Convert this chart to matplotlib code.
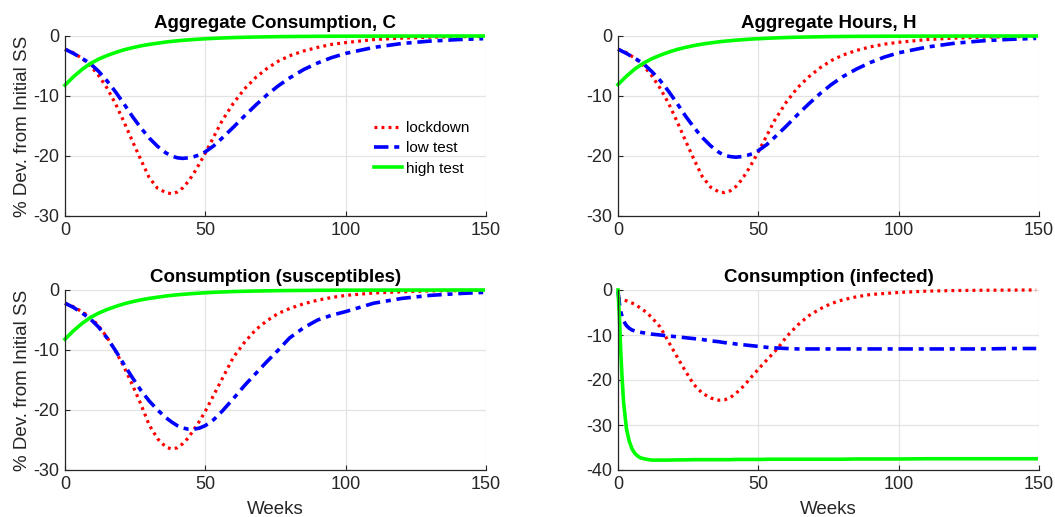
import matplotlib.pyplot as plt

plt.rcParams['font.family'] = ['Liberation Sans', 'DejaVu Sans']
plt.rcParams['axes.unicode_minus'] = False

# weekly grid shared by the first three panels
weeks = [0, 3, 6, 9, 12, 15, 18, 21, 24, 27, 30, 33, 36, 38, 40, 42, 44, 46, 48, 50,
         53, 56, 60, 64, 68, 72, 76, 80, 85, 90, 95, 100, 110, 120, 130, 140, 149]

# Aggregate consumption
cons_lockdown = [-2.2, -2.8, -3.7, -4.9, -6.6, -8.7, -11.3, -14.3, -17.5, -20.6, -23.6, -25.4,
                 -26.1, -26.3, -26.0, -25.3, -24.2, -22.8, -21.2, -19.5, -16.8, -14.1, -11.2,
                 -8.8, -6.9, -5.4, -4.2, -3.3, -2.5, -1.9, -1.4, -1.1, -0.6, -0.35, -0.2, -0.12, -0.08]
cons_low = [-2.2, -2.9, -3.7, -4.6, -5.9, -7.5, -9.3, -11.3, -13.4, -15.3, -17.0, -18.4,
            -19.5, -20.0, -20.3, -20.4, -20.3, -20.1, -19.8, -19.3, -18.3, -17.0, -15.2,
            -13.3, -11.5, -9.8, -8.3, -7.0, -5.6, -4.5, -3.6, -2.9, -1.9, -1.25, -0.85, -0.6, -0.45]
cons_high = [-8.2, -6.8, -5.6, -4.6, -3.85, -3.25, -2.75, -2.3, -1.95, -1.65, -1.4, -1.2,
             -1.0, -0.9, -0.8, -0.72, -0.65, -0.58, -0.52, -0.46, -0.39, -0.33, -0.26,
             -0.21, -0.17, -0.14, -0.11, -0.09, -0.07, -0.05, -0.04, -0.03, -0.02, -0.01, -0.01, 0.0, 0.0]

# Aggregate hours
hours_lockdown = [-2.2, -2.8, -3.7, -4.9, -6.6, -8.7, -11.2, -14.2, -17.4, -20.5, -23.4, -25.2,
                  -26.0, -26.1, -25.8, -25.1, -24.0, -22.6, -21.0, -19.3, -16.6, -13.9, -11.0,
                  -8.6, -6.8, -5.3, -4.1, -3.2, -2.4, -1.8, -1.35, -1.05, -0.6, -0.35, -0.2, -0.12, -0.08]
hours_low = [-2.2, -2.9, -3.7, -4.6, -5.9, -7.4, -9.2, -11.2, -13.3, -15.2, -16.9, -18.3,
             -19.4, -19.9, -20.1, -20.2, -20.1, -19.9, -19.6, -19.1, -18.1, -16.8, -15.0,
             -13.1, -11.3, -9.6, -8.1, -6.8, -5.5, -4.4, -3.5, -2.8, -1.85, -1.2, -0.8, -0.55, -0.4]
hours_high = [-8.1, -6.7, -5.5, -4.55, -3.8, -3.2, -2.7, -2.25, -1.9, -1.6, -1.35, -1.15,
              -0.97, -0.87, -0.78, -0.7, -0.63, -0.56, -0.5, -0.45, -0.38, -0.32, -0.25,
              -0.2, -0.16, -0.13, -0.1, -0.08, -0.06, -0.05, -0.04, -0.03, -0.02, -0.01, 0.0, 0.0, 0.0]

# Consumption of susceptibles
sus_lockdown = [-2.2, -2.8, -3.6, -4.5, -6.0, -7.9, -10.2, -12.8, -15.8, -19.0, -22.5, -24.8,
                -26.2, -26.5, -26.3, -25.6, -24.6, -23.2, -21.8, -20.2, -17.5, -14.8, -11.2,
                -8.7, -6.6, -5.1, -3.9, -3.1, -2.3, -1.7, -1.25, -0.9, -0.5, -0.3, -0.15, -0.1, -0.06]
sus_low = [-2.2, -2.9, -3.8, -4.8, -6.2, -8.0, -10.1, -12.4, -14.6, -16.7, -18.5, -20.0,
           -21.3, -22.0, -22.6, -23.0, -23.2, -23.2, -23.0, -22.6, -21.6, -20.2, -18.1,
           -15.9, -13.9, -11.9, -10.0, -8.0, -6.3, -5.0, -4.2, -3.6, -2.2, -1.4, -0.9, -0.6, -0.4]
sus_high = [-8.2, -6.8, -5.6, -4.6, -3.85, -3.25, -2.75, -2.3, -1.95, -1.65, -1.4, -1.2,
            -1.0, -0.9, -0.8, -0.72, -0.65, -0.58, -0.52, -0.46, -0.39, -0.33, -0.26,
            -0.21, -0.17, -0.14, -0.11, -0.09, -0.07, -0.05, -0.04, -0.03, -0.02, -0.01, -0.01, 0.0, 0.0]

# Consumption of infected (finer grid at the start)
weeks_inf = [0, 0.5, 1, 1.5, 2, 3, 4, 5, 6, 7, 8, 10, 12, 15, 18, 21, 24, 27, 30, 33, 36, 38,
             40, 42, 45, 48, 51, 54, 57, 60, 64, 68, 72, 76, 80, 85, 90, 100, 110, 120, 130, 140, 149]
inf_lockdown = [-1.8, -1.9, -2.0, -2.1, -2.2, -2.4, -2.7, -2.9, -3.2, -3.6, -4.0, -4.9, -6.1,
                -8.2, -11.5, -14.8, -18.0, -21.0, -22.9, -24.0, -24.5, -24.4, -23.9, -23.0,
                -21.2, -19.0, -16.9, -14.9, -12.9, -10.4, -7.8, -5.7, -4.2, -3.0, -2.2, -1.5,
                -1.0, -0.55, -0.25, -0.12, -0.06, -0.02, 0.0]
inf_low = [-0.3, -3.0, -4.8, -6.0, -6.9, -7.9, -8.5, -8.9, -9.1, -9.3, -9.4, -9.6, -9.8,
           -10.0, -10.2, -10.4, -10.6, -10.8, -11.0, -11.3, -11.5, -11.7, -11.8, -12.0,
           -12.2, -12.4, -12.6, -12.8, -12.9, -13.0, -13.1, -13.1, -13.1, -13.1, -13.1, -13.1,
           -13.1, -13.1, -13.1, -13.1, -13.1, -13.0, -13.0]
inf_high = [0.0, -6.0, -14.0, -20.0, -25.0, -30.8, -33.6, -35.3, -36.3, -36.9, -37.3, -37.6,
            -37.8, -37.8, -37.8, -37.75, -37.75, -37.7, -37.7, -37.7, -37.7, -37.7, -37.7,
            -37.65, -37.65, -37.65, -37.65, -37.6, -37.6, -37.6, -37.6, -37.6, -37.6, -37.6,
            -37.6, -37.55, -37.55, -37.55, -37.5, -37.5, -37.5, -37.5, -37.5]

panels = [
    ('Aggregate Consumption, C', weeks, cons_lockdown, cons_low, cons_high, [-30, -20, -10, 0]),
    ('Aggregate Hours, H', weeks, hours_lockdown, hours_low, hours_high, [-30, -20, -10, 0]),
    ('Consumption (susceptibles)', weeks, sus_lockdown, sus_low, sus_high, [-30, -20, -10, 0]),
    ('Consumption (infected)', weeks_inf, inf_lockdown, inf_low, inf_high, [-40, -30, -20, -10, 0]),
]

W, H = 1055, 517
boxes = [(65, 36), (618, 36), (65, 290), (618, 290)]
aw, ah = 421, 180

fig = plt.figure(figsize=(W / 100, H / 100), dpi=100)
dark = '#262626'

for i, (title, t, lock, low, high, yt) in enumerate(panels):
    x0, y0 = boxes[i]
    ax = fig.add_axes([x0 / W, 1 - (y0 + ah) / H, aw / W, ah / H])
    ax.plot(t, lock, color='red', lw=2.3, ls=(0, (0.9, 1.3)), label='lockdown', clip_on=False)
    ax.plot(t, low, color='blue', lw=2.6, ls=(0, (4, 1.6, 1.4, 1.6)), label='low test', clip_on=False)
    ax.plot(t, high, color='#00ff00', lw=2.6, label='high test', clip_on=False)
    ax.set_xlim(0, 150)
    ax.set_ylim(yt[0], 0)
    ax.set_xticks([0, 50, 100, 150])
    ax.set_yticks(yt)
    ax.grid(True, color='#e3e3e3', lw=0.9)
    ax.set_axisbelow(True)
    for s in ['top', 'right']:
        ax.spines[s].set_visible(False)
    for s in ['left', 'bottom']:
        ax.spines[s].set_color(dark)
        ax.spines[s].set_linewidth(0.9)
    ax.tick_params(direction='in', length=3.5, width=0.8, colors=dark,
                   labelsize=13, pad=4)
    ax.set_title(title, fontsize=13.5, fontweight='bold', pad=6)
    if i % 2 == 0:
        ax.set_ylabel('% Dev. from Initial SS', fontsize=13.5, color=dark, labelpad=2)
    if i >= 2:
        ax.set_xlabel('Weeks', fontsize=13.5, color=dark, labelpad=6)
    if i == 0:
        ax.legend(loc='upper left', bbox_to_anchor=(0.72, 0.56), frameon=False,
                  fontsize=11, handlelength=1.8, handletextpad=0.3, labelspacing=0.4,
                  borderaxespad=0)

fig.savefig('out.png', dpi=100)
